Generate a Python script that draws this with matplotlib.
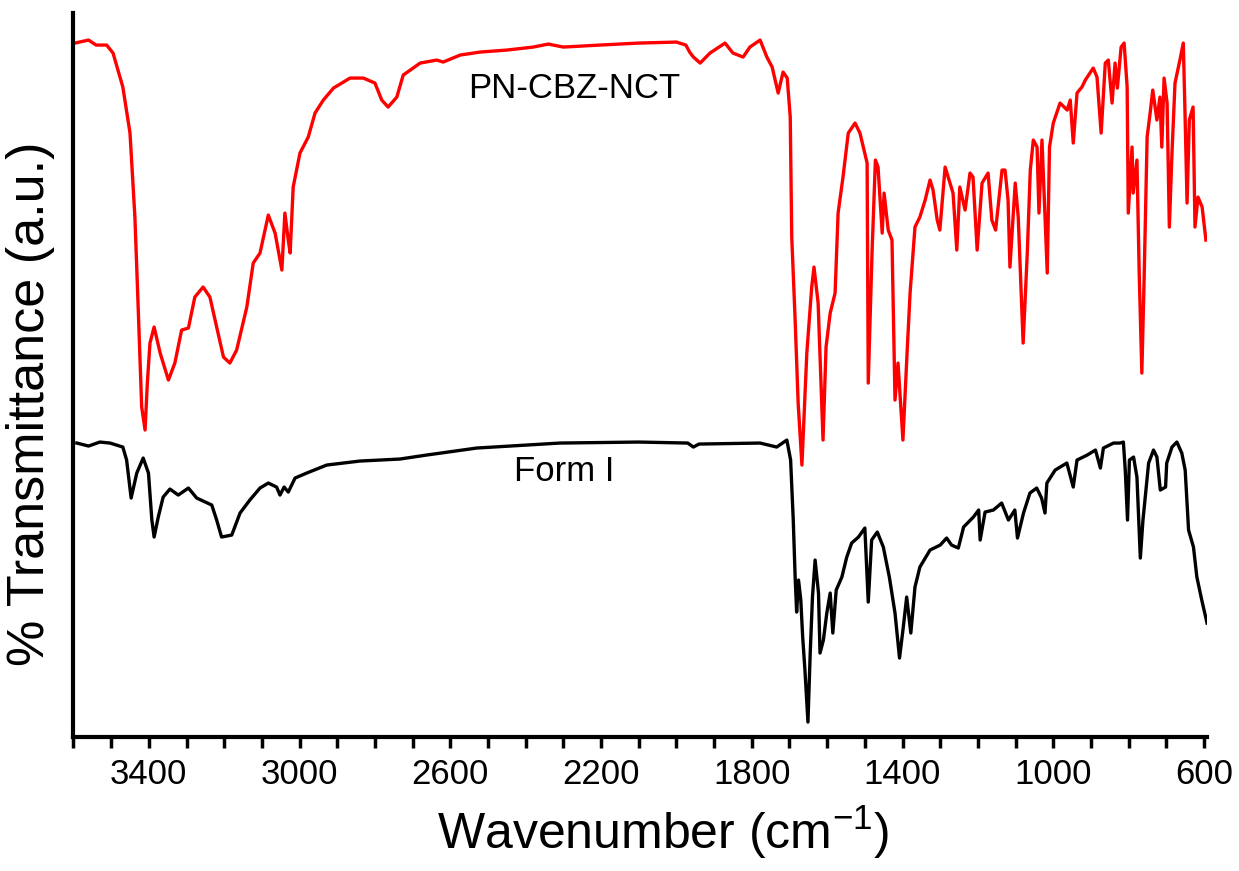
import numpy as np
import matplotlib
matplotlib.use('Agg')
import matplotlib.pyplot as plt
from matplotlib.ticker import FixedLocator, MultipleLocator

plt.rcParams['font.family'] = ['Liberation Sans', 'DejaVu Sans']
plt.rcParams['mathtext.default'] = 'regular'

# PN-CBZ-NCT cocrystal spectrum (wavenumber cm-1, transmittance a.u.)
wn_nct = [3596, 3560, 3540, 3512, 3495, 3469, 3450, 3437, 3429, 3419, 3410, 3404, 3397, 3386,
          3370, 3348, 3331, 3313, 3295, 3278, 3256, 3238, 3220, 3202, 3185, 3167, 3140, 3123,
          3105, 3083, 3065, 3047, 3039, 3030, 3025, 3017, 2999, 2977, 2959, 2937, 2910, 2866,
          2831, 2800, 2782, 2765, 2742, 2725, 2680, 2636, 2619, 2574, 2521, 2450, 2380, 2340,
          2300, 2203, 2100, 2000, 1975, 1965, 1955, 1937, 1911, 1871, 1850, 1823, 1805, 1778,
          1760, 1746, 1730, 1717, 1706, 1698, 1694, 1685, 1677, 1667, 1654, 1641, 1635, 1624,
          1616, 1611, 1603, 1592, 1579, 1571, 1558, 1544, 1526, 1513, 1494, 1491, 1481, 1472,
          1465, 1454, 1449, 1438, 1428, 1420, 1412, 1399, 1388, 1380, 1367, 1354, 1340, 1327,
          1319, 1308, 1301, 1287, 1274, 1266, 1256, 1248, 1234, 1221, 1213, 1202, 1189, 1173,
          1163, 1153, 1136, 1128, 1120, 1115, 1101, 1093, 1080, 1069, 1061, 1053, 1043, 1038,
          1030, 1016, 1010, 1000, 982, 963, 955, 947, 937, 924, 915, 894, 884, 873, 862, 854,
          844, 836, 830, 820, 812, 804, 801, 791, 788, 778, 772, 765, 759, 751, 743, 736, 725,
          717, 712, 706, 698, 692, 685, 677, 664, 655, 650, 645, 639, 629, 624, 616, 605, 595]
t_nct = [69.4, 69.7, 69.2, 69.2, 68.4, 65.0, 60.4, 52.0, 43.7, 33.0, 30.7, 35.4, 39.4, 41.0,
         38.4, 35.7, 37.4, 40.7, 40.9, 44.0, 45.0, 44.0, 41.0, 38.0, 37.4, 38.7, 43.0, 47.4,
         48.4, 52.2, 50.4, 46.7, 52.4, 49.7, 48.4, 55.0, 58.4, 60.0, 62.4, 63.7, 64.9, 65.9,
         65.9, 65.4, 63.7, 63.0, 64.0, 66.2, 67.4, 67.7, 67.5, 68.2, 68.5, 68.7, 69.0, 69.3,
         69.0, 69.2, 69.4, 69.5, 69.2, 68.5, 68.0, 67.4, 68.4, 69.4, 68.4, 68.0, 69.0, 69.7,
         68.0, 67.0, 64.4, 66.5, 65.9, 62.0, 50.0, 41.7, 33.4, 27.2, 38.4, 45.0, 47.0, 43.4,
         35.0, 29.7, 39.0, 42.4, 44.4, 52.4, 56.0, 60.4, 61.4, 60.4, 57.4, 35.4, 48.4, 57.7,
         57.0, 50.4, 54.4, 50.7, 49.7, 33.7, 37.4, 29.7, 38.4, 44.4, 51.0, 52.0, 53.7, 55.7,
         54.7, 51.7, 50.7, 57.0, 55.4, 54.4, 48.7, 55.0, 52.7, 56.4, 56.0, 48.7, 55.4, 56.4,
         51.7, 50.7, 56.7, 56.7, 53.7, 47.0, 55.4, 52.0, 39.4, 48.4, 56.7, 59.7, 59.0, 52.4,
         59.7, 46.4, 59.0, 61.4, 63.4, 62.7, 63.7, 59.4, 64.4, 65.0, 65.7, 66.9, 66.0, 60.4,
         67.4, 67.7, 63.4, 67.4, 64.9, 69.0, 69.4, 65.0, 52.4, 59.0, 54.4, 57.7, 46.4, 36.4,
         45.7, 60.0, 62.4, 64.7, 61.7, 64.0, 59.0, 65.9, 63.4, 51.0, 58.4, 65.4, 67.7, 69.4,
         61.7, 53.4, 61.7, 63.0, 51.0, 54.0, 53.0, 49.7]

# Form I spectrum
wn_form1 = [3591, 3560, 3530, 3503, 3469, 3459, 3447, 3432, 3415, 3401, 3392, 3386, 3375, 3362,
            3344, 3322, 3295, 3273, 3233, 3220, 3207, 3180, 3158, 3132, 3105, 3083, 3061, 3052,
            3041, 3030, 3012, 2981, 2928, 2840, 2734, 2663, 2530, 2397, 2309, 2100, 1970, 1955,
            1940, 1778, 1734, 1707, 1697, 1690, 1685, 1681, 1676, 1670, 1665, 1659, 1651, 1645,
            1639, 1632, 1623, 1619, 1610, 1601, 1592, 1585, 1576, 1561, 1548, 1535, 1517, 1500,
            1491, 1482, 1467, 1451, 1435, 1420, 1408, 1398, 1389, 1378, 1367, 1354, 1327, 1300,
            1283, 1270, 1252, 1238, 1212, 1198, 1194, 1181, 1159, 1137, 1119, 1102, 1095, 1079,
            1062, 1044, 1031, 1022, 1017, 995, 964, 947, 937, 910, 888, 875, 867, 840, 823, 814,
            809, 803, 798, 787, 778, 769, 762, 756, 747, 734, 725, 716, 702, 699, 685, 672, 659,
            650, 641, 628, 619, 606, 592]
t_form1 = [29.4, 29.1, 29.5, 29.4, 29.0, 27.7, 23.9, 26.4, 27.9, 26.4, 21.7, 20.0, 22.0, 24.0,
           24.8, 24.2, 24.9, 23.9, 23.2, 21.7, 20.0, 20.2, 22.4, 23.7, 24.9, 25.4, 25.0, 24.2,
           25.0, 24.5, 25.9, 26.4, 27.2, 27.6, 27.8, 28.2, 28.9, 29.2, 29.4, 29.5, 29.4, 29.0,
           29.3, 29.4, 29.0, 29.7, 27.7, 21.7, 16.0, 12.5, 15.7, 13.7, 10.0, 6.7, 1.5, 8.4,
           14.0, 17.7, 14.4, 8.4, 9.7, 12.4, 14.4, 10.4, 14.7, 16.0, 18.0, 19.4, 20.0, 20.9,
           13.5, 19.7, 20.5, 19.0, 16.0, 12.4, 7.9, 11.0, 14.0, 10.4, 15.0, 17.0, 18.7, 19.2,
           19.9, 19.2, 18.9, 21.0, 22.0, 22.7, 19.7, 22.5, 22.7, 23.4, 21.7, 22.7, 19.9, 22.4,
           24.4, 24.9, 23.9, 22.4, 25.4, 26.7, 27.4, 25.0, 27.7, 28.2, 28.7, 26.9, 28.9, 29.4,
           29.4, 29.5, 26.7, 21.7, 27.7, 28.0, 26.0, 17.9, 21.7, 24.0, 27.4, 28.7, 28.0, 24.7,
           25.0, 27.4, 29.0, 29.5, 28.4, 26.7, 20.7, 19.0, 16.0, 13.7, 11.4]

major_ticks = [3400, 3000, 2600, 2200, 1800, 1400, 1000, 600]

fig = plt.figure(figsize=(12.39, 8.71), dpi=100)
ax = fig.add_axes([0.0593, 0.1538, 0.9149, 0.8312])

ax.plot(wn_nct, t_nct, color='#ff0000', lw=2.4)
ax.plot(wn_form1, t_form1, color='black', lw=2.4)

ax.text(2272, 64.9, 'PN-CBZ-NCT', fontsize=25, ha='center', va='center')
ax.text(2298, 26.6, 'Form I', fontsize=25, ha='center', va='center')

ax.set_xlim(3600, 592)
ax.set_ylim(0, 72.4)
ax.xaxis.set_major_locator(FixedLocator(major_ticks))
ax.xaxis.set_minor_locator(MultipleLocator(100))
ax.tick_params(axis='x', which='both', direction='out', length=8, width=2.5, pad=7, labelsize=25)
ax.set_yticks([])

for s in ['top', 'right']:
    ax.spines[s].set_visible(False)
for s in ['left', 'bottom']:
    ax.spines[s].set_linewidth(3)

ax.set_xlabel('Wavenumber (cm$^{-1}$)', fontsize=36)
ax.xaxis.set_label_coords(0.52, -0.092)
ax.set_ylabel('% Transmittance (a.u.)', fontsize=37.5)
ax.yaxis.set_label_coords(-0.016, 0.46)

fig.savefig('out.png', dpi=100)
